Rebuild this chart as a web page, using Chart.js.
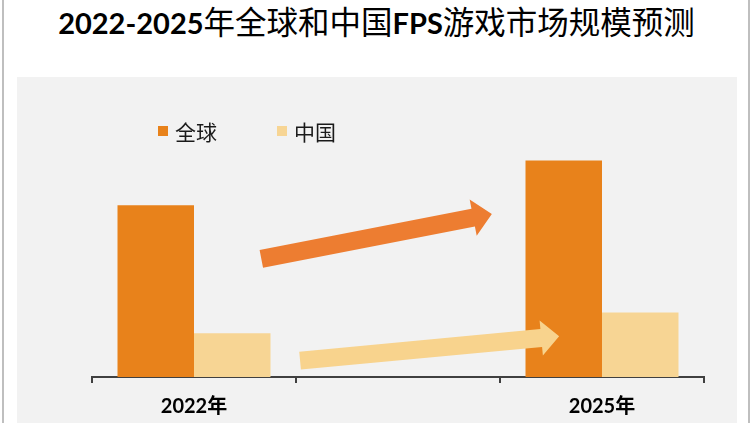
<!DOCTYPE html>
<html>
<head>
<meta charset="utf-8">
<script src="https://cdn.jsdelivr.net/npm/chart.js@4"></script>
<style>
    body { margin: 0; background: #fff; }
    #wrap { position: relative; width: 753px; height: 423px; overflow: hidden; background: #fff; }
    #frame { position: absolute; left: 2px; top: -2px; width: 744px; height: 430px;
             border-left: 2px solid #BFBFBF; border-right: 2px solid #BFBFBF; }
    #title { position: absolute; left: 0; top: -3px; width: 753px; text-align: center;
             line-height: 40px; white-space: nowrap; color: #000; }
    .lat { font: bold 29px Lato, sans-serif; }
    .cjk { font: 31.5px "Noto Sans CJK SC"; }
    #panel { position: absolute; left: 17px; top: 77px; width: 720px; height: 346px; background: #F2F2F2; }
    #legend { position: absolute; left: 158px; top: 121px; display: flex; gap: 60px; }
    .item { display: flex; align-items: center; font: 21px "Noto Sans CJK SC"; line-height: 20px; color: #1a1a1a; }
    .box { width: 10px; height: 10px; margin-right: 7px; }
    canvas { position: absolute; left: 0; top: 0; }
</style>
</head>
<body>
<div id="wrap">
    <div id="frame"></div>
    <div id="title"><span class="lat">2022-2025</span><span class="cjk">年全球和中国</span><span class="lat">FPS</span><span class="cjk">游戏市场规模预测</span></div>
    <div id="panel">
        <canvas id="bar-chart" width="720" height="357"></canvas>
    </div>
    <div id="legend"></div>
</div>
<script>
// datos (sin eje y, escala relativa)
const categories = ['2022年', '', '2025年'];
const seriesNames = ['全球', '中国'];
const globalValues = [86.5, null, 109];
const chinaValues = [22, null, 32.5];
const seriesColors = ['#E8821B', '#F7D594'];

// flechas decorativas: [posicion en categorias, valor]
const arrowGlobal = [[0.33, 59.5], [1.46, 82]];
const arrowChina = [[0.52, 8.25], [1.79, 20.5]];
const arrowColors = ['#ED7D31', '#F8D38D'];

// leyenda en html
const legend = document.getElementById('legend');
seriesNames.forEach((name, i) => {
    const item = document.createElement('div');
    item.className = 'item';
    item.innerHTML = `<span class="box" style="background:${seriesColors[i]}"></span>${name}`;
    legend.appendChild(item);
});

function drawArrow(ctx, a, b, shaft, head, headLen, color) {
    const dx = b[0] - a[0], dy = b[1] - a[1];
    const len = Math.hypot(dx, dy);
    const ux = dx / len, uy = dy / len;
    const nx = -uy, ny = ux;
    const bx = b[0] - ux * headLen, by = b[1] - uy * headLen;
    const pts = [
        [a[0] + nx * shaft / 2, a[1] + ny * shaft / 2],
        [bx + nx * shaft / 2, by + ny * shaft / 2],
        [bx + nx * head / 2, by + ny * head / 2],
        b,
        [bx - nx * head / 2, by - ny * head / 2],
        [bx - nx * shaft / 2, by - ny * shaft / 2],
        [a[0] - nx * shaft / 2, a[1] - ny * shaft / 2]
    ];
    ctx.save();
    ctx.fillStyle = color;
    ctx.beginPath();
    pts.forEach((p, i) => i ? ctx.lineTo(p[0], p[1]) : ctx.moveTo(p[0], p[1]));
    ctx.closePath();
    ctx.fill();
    ctx.restore();
}

const arrowsPlugin = {
    id: 'arrows',
    afterDatasetsDraw(chart) {
        const { ctx, scales: { x, y } } = chart;
        const x0 = x.getPixelForValue(0);
        const step = x.getPixelForValue(1) - x0;
        const toPx = p => [x0 + p[0] * step, y.getPixelForValue(p[1])];
        drawArrow(ctx, toPx(arrowGlobal[0]), toPx(arrowGlobal[1]), 18, 37, 19, arrowColors[0]);
        drawArrow(ctx, toPx(arrowChina[0]), toPx(arrowChina[1]), 18, 35, 18, arrowColors[1]);
    }
};

new Chart(document.getElementById('bar-chart').getContext('2d'), {
    type: 'bar',
    data: {
        labels: categories,
        datasets: [
            { label: seriesNames[0], data: globalValues, backgroundColor: seriesColors[0] },
            { label: seriesNames[1], data: chinaValues, backgroundColor: seriesColors[1] }
        ].map(ds => ({ ...ds, categoryPercentage: 0.75, barPercentage: 1.0, borderWidth: 0 }))
    },
    options: {
        responsive: false,
        animation: false,
        layout: { padding: { left: 75, right: 33, top: 2, bottom: 3 } },
        plugins: {
            legend: { display: false },
            tooltip: { enabled: false }
        },
        scales: {
            x: {
                grid: { display: true, drawOnChartArea: false, drawTicks: true, tickLength: 6,
                        color: '#404040', lineWidth: 2, offset: true },
                border: { display: true, color: '#404040', width: 2 },
                ticks: { color: '#000', padding: 12,
                         font: { family: 'Lato, "Noto Sans CJK SC"', size: 20, weight: 'bold' } }
            },
            y: { display: false, min: 0, max: 150 }
        }
    },
    plugins: [arrowsPlugin]
});
</script>
</body>
</html>
